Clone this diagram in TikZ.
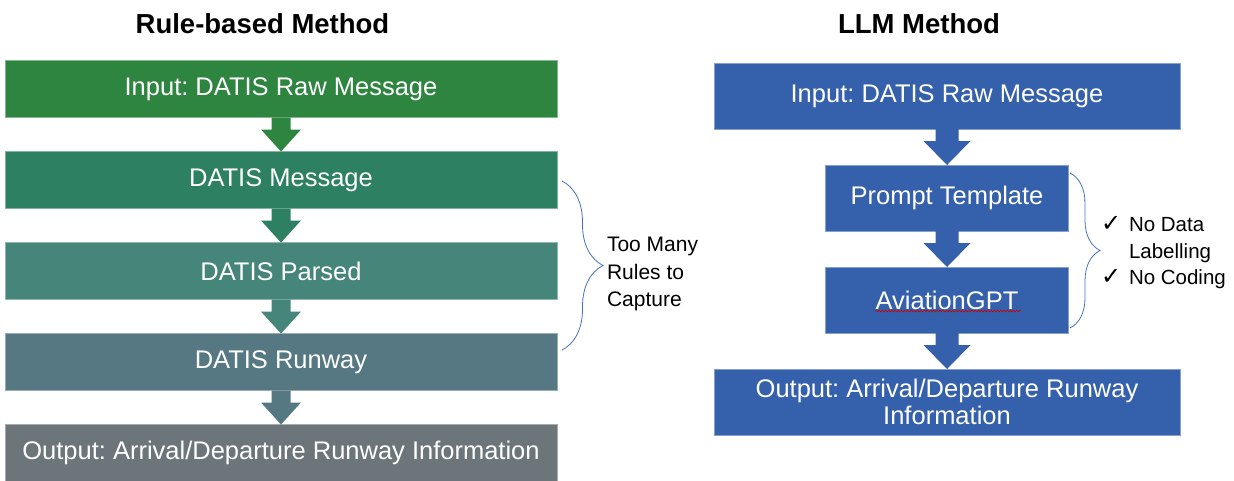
\documentclass[tikz,border=0pt]{standalone}
\usepackage{fontspec}
\setmainfont{Liberation Sans}
\newfontfamily\checkfont{DejaVu Sans}
\usetikzlibrary{positioning,decorations.pathreplacing,decorations.pathmorphing}
\frenchspacing

\definecolor{inputgreen}{HTML}{2E8540}
\definecolor{msggreen}{HTML}{2D8062}
\definecolor{parsedteal}{HTML}{46857A}
\definecolor{runwayslate}{HTML}{557882}
\definecolor{outputgrey}{HTML}{6C767A}
\definecolor{llmblue}{HTML}{3560AB}
\definecolor{braceblue}{HTML}{4472C4}

\begin{document}
\begin{tikzpicture}[
  x=1pt, y=-1pt,
  every node/.style={inner sep=0pt, outer sep=0pt},
  box/.style={
    rectangle,
    fill=#1,
    draw=#1!60!white, line width=0.75pt,
    text=white,
    font=\fontsize{25.5}{27}\selectfont,
    align=center
  },
  rule node/.style={minimum width=552pt, minimum height=57pt},
  wide node/.style={minimum width=466pt, minimum height=66pt},
  narrow node/.style={minimum width=243pt, minimum height=66pt},
  heading/.style={font=\fontsize{27.5}{30}\selectfont\bfseries, anchor=base},
  note/.style={font=\fontsize{21}{27.5}\selectfont, align=left, anchor=west},
  % block arrow from the bottom of one box to the top of the next
  fat/.style 2 args={draw=none, to path={([xshift=-#1]\tikztostart.south)
      -- ([xshift=-#1, yshift=-12pt]\tikztostart.south)
      -- ([xshift=-#2, yshift=-12pt]\tikztostart.south)
      -- (\tikztotarget.north)
      -- ([xshift=#2, yshift=-12pt]\tikztostart.south)
      -- ([xshift=#1, yshift=-12pt]\tikztostart.south)
      -- ([xshift=#1]\tikztostart.south) -- cycle}},
  curly/.style={draw=braceblue, line width=0.8pt, decorate, decoration={brace, amplitude=#1}},
  spellcheck/.style={draw=red!80!black, line width=0.6pt, decorate, decoration={snake, amplitude=0.9pt, segment length=3.2pt}}
  ]
\useasboundingbox (0,0) rectangle (1234,480);

\node[heading] (ruletitle) at (262.5,33) {Rule-based Method};
\begin{scope}[every node/.append style={rule node}, node distance=34pt]
  \node[box=inputgreen] (rawin) at (281,89) {Input: DATIS Raw Message};
  \node[box=msggreen, below=of rawin] (datismsg) {DATIS Message};
  \node[box=parsedteal, below=of datismsg] (parsed) {DATIS Parsed};
  \node[box=runwayslate, below=of parsed] (runway) {DATIS Runway};
  \node[box=outputgrey, below=of runway] (ruleout) {Output: Arrival/Departure Runway Information};
\end{scope}
\path (rawin) edge[fat={9.5pt}{20pt}, fill=inputgreen] (datismsg)
      (datismsg) edge[fat={9.5pt}{20pt}, fill=msggreen] (parsed)
      (parsed) edge[fat={9.5pt}{20pt}, fill=parsedteal] (runway)
      (runway) edge[fat={9.5pt}{20pt}, fill=runwayslate] (ruleout);

\coordinate (rulebracetop) at (562,181);
\coordinate (rulebracebot) at (562,350);
\draw[curly=41pt] (rulebracetop) -- (rulebracebot);
\node[note] (toomany) at (607,274) {Too Many\\Rules to\\Capture};

\node[heading] (llmtitle) at (919,33) {LLM Method};
\begin{scope}[node distance=36pt]
  \node[box=llmblue, wide node] (llmin) at (947,96) {Input: DATIS Raw Message};
  \node[box=llmblue, narrow node, below=of llmin] (prompt) {Prompt Template};
  \node[box=llmblue, narrow node, below=of prompt] (gpt) {AviationGPT};
  \node[box=llmblue, wide node, below=of gpt] (llmout) {Output: Arrival/Departure Runway\\Information};
\end{scope}
\path (llmin) edge[fat={11.5pt}{23.5pt}, fill=llmblue] (prompt)
      (prompt) edge[fat={11.5pt}{23.5pt}, fill=llmblue] (gpt)
      (gpt) edge[fat={11.5pt}{23.5pt}, fill=llmblue] (llmout);
\draw[spellcheck] ([xshift=-72pt, yshift=-11pt]gpt.center) -- ([xshift=74pt, yshift=-11pt]gpt.center);

\coordinate (llmbracetop) at (1070,173);
\coordinate (llmbracebot) at (1070,328);
\draw[curly=30pt] (llmbracetop) -- (llmbracebot);
\node[anchor=west, font=\fontsize{20.5}{26.5}\selectfont] (nocost) at (1101,253) {%
  \begin{tabular}{@{}l@{}l@{}}
    \makebox[28pt][l]{\checkfont\fontsize{24}{26}\selectfont ✓} & No Data\\
    & Labelling\\
    \makebox[28pt][l]{\checkfont\fontsize{24}{26}\selectfont ✓} & No Coding
  \end{tabular}};
\end{tikzpicture}
\end{document}
